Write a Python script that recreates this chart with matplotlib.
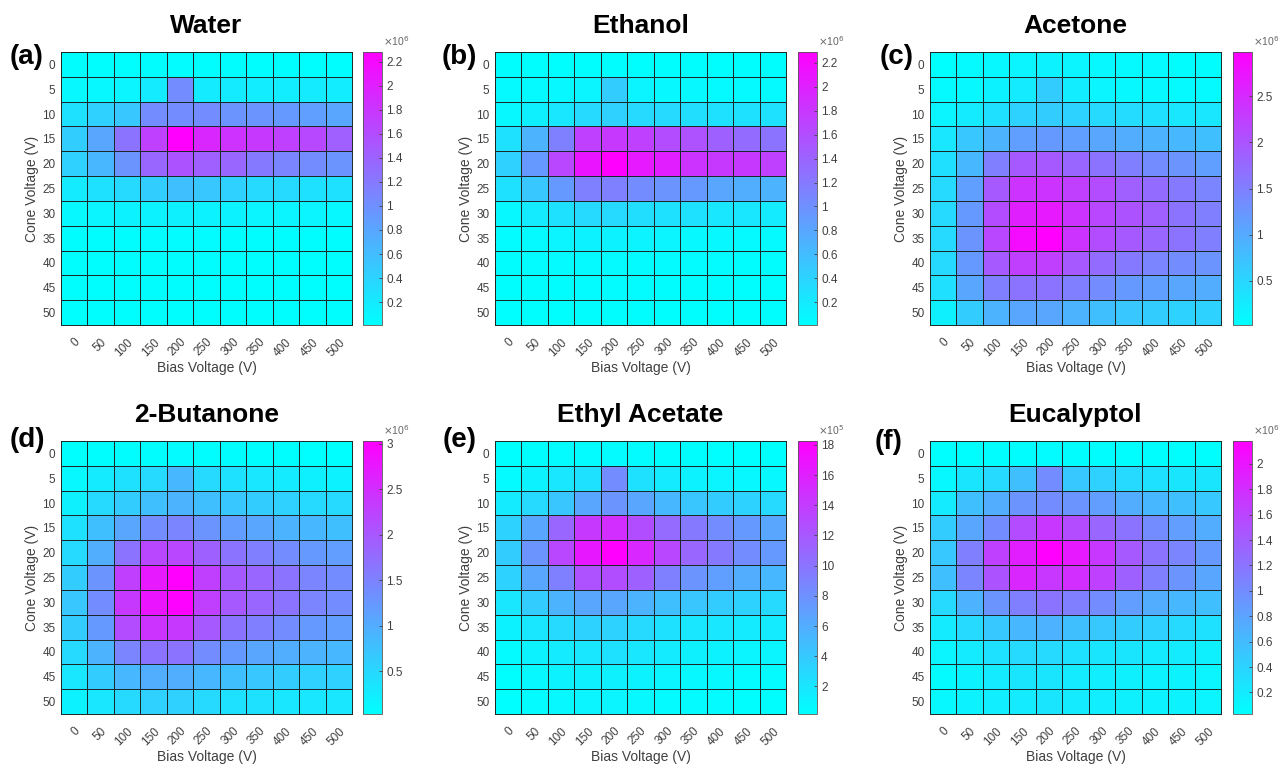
import numpy as np
import matplotlib
matplotlib.use('Agg')
import matplotlib.pyplot as plt

plt.rcParams['font.family'] = ['Liberation Sans', 'DejaVu Sans']

bias_labels = ['0', '50', '100', '150', '200', '250', '300', '350', '400', '450', '500']
cone_labels = ['0', '5', '10', '15', '20', '25', '30', '35', '40', '45', '50']

# rows = cone voltage 0..50, cols = bias voltage 0..500 (values in colorbar units)
water = [
    [0.03, 0.02, 0.02, 0.03, 0.04, 0.03, 0.03, 0.02, 0.02, 0.02, 0.02],
    [0.08, 0.08, 0.10, 0.19, 1.03, 0.19, 0.19, 0.17, 0.17, 0.19, 0.17],
    [0.28, 0.42, 0.51, 1.03, 1.03, 1.03, 0.96, 0.96, 0.92, 0.87, 0.80],
    [0.46, 0.80, 1.26, 1.71, 2.28, 1.94, 1.83, 1.78, 1.71, 1.64, 1.42],
    [0.42, 0.65, 0.96, 1.37, 1.55, 1.42, 1.37, 1.19, 1.10, 1.03, 0.96],
    [0.19, 0.28, 0.35, 0.46, 0.58, 0.51, 0.42, 0.35, 0.35, 0.28, 0.28],
    [0.08, 0.10, 0.12, 0.12, 0.15, 0.12, 0.12, 0.10, 0.10, 0.10, 0.08],
    [0.03, 0.03, 0.03, 0.04, 0.04, 0.04, 0.03, 0.03, 0.03, 0.03, 0.03],
    [0.02, 0.02, 0.03, 0.03, 0.03, 0.03, 0.02, 0.02, 0.02, 0.02, 0.02],
    [0.02, 0.02, 0.02, 0.03, 0.03, 0.02, 0.02, 0.02, 0.02, 0.02, 0.02],
    [0.01, 0.02, 0.02, 0.02, 0.02, 0.02, 0.02, 0.02, 0.02, 0.02, 0.02],
]

ethanol = [
    [0.02, 0.02, 0.02, 0.02, 0.03, 0.02, 0.02, 0.02, 0.02, 0.02, 0.02],
    [0.06, 0.06, 0.08, 0.10, 0.47, 0.10, 0.08, 0.08, 0.06, 0.06, 0.06],
    [0.08, 0.15, 0.24, 0.35, 0.42, 0.35, 0.35, 0.31, 0.28, 0.28, 0.28],
    [0.28, 0.69, 1.15, 1.72, 1.79, 1.72, 1.61, 1.56, 1.42, 1.33, 1.26],
    [0.42, 0.92, 1.65, 2.11, 2.29, 2.06, 2.02, 1.83, 1.79, 1.79, 1.72],
    [0.28, 0.51, 0.92, 1.15, 1.15, 1.04, 0.97, 0.92, 0.81, 0.74, 0.69],
    [0.08, 0.19, 0.28, 0.35, 0.35, 0.31, 0.28, 0.28, 0.24, 0.24, 0.19],
    [0.04, 0.06, 0.10, 0.12, 0.13, 0.11, 0.10, 0.08, 0.08, 0.06, 0.06],
    [0.03, 0.04, 0.05, 0.06, 0.06, 0.05, 0.05, 0.04, 0.04, 0.03, 0.03],
    [0.02, 0.03, 0.03, 0.04, 0.04, 0.04, 0.03, 0.03, 0.03, 0.02, 0.02],
    [0.01, 0.02, 0.02, 0.03, 0.03, 0.03, 0.02, 0.02, 0.02, 0.02, 0.02],
]

acetone = [
    [0.02, 0.08, 0.11, 0.14, 0.17, 0.14, 0.11, 0.08, 0.08, 0.05, 0.05],
    [0.08, 0.11, 0.17, 0.26, 0.61, 0.23, 0.14, 0.11, 0.11, 0.08, 0.08],
    [0.14, 0.26, 0.38, 0.55, 0.61, 0.55, 0.46, 0.43, 0.38, 0.32, 0.32],
    [0.32, 0.67, 0.91, 1.14, 1.20, 1.14, 1.06, 0.97, 0.91, 0.85, 0.76],
    [0.38, 0.85, 1.50, 1.94, 1.94, 1.80, 1.65, 1.50, 1.35, 1.26, 1.14],
    [0.46, 1.14, 1.94, 2.39, 2.39, 2.24, 2.09, 1.86, 1.74, 1.56, 1.44],
    [0.46, 1.20, 2.09, 2.62, 2.68, 2.39, 2.15, 2.03, 1.86, 1.65, 1.50],
    [0.46, 1.26, 2.15, 2.83, 2.98, 2.39, 2.09, 1.94, 1.80, 1.65, 1.50],
    [0.46, 1.20, 1.94, 2.24, 2.24, 1.94, 1.74, 1.56, 1.44, 1.35, 1.26],
    [0.38, 1.06, 1.50, 1.65, 1.65, 1.50, 1.35, 1.20, 1.14, 1.06, 0.97],
    [0.20, 0.61, 0.91, 1.06, 1.06, 0.91, 0.76, 0.67, 0.61, 0.55, 0.55],
]

butanone = [
    [0.03, 0.05, 0.06, 0.06, 0.08, 0.06, 0.06, 0.05, 0.05, 0.04, 0.04],
    [0.12, 0.27, 0.39, 0.48, 0.87, 0.48, 0.39, 0.33, 0.27, 0.21, 0.18],
    [0.21, 0.48, 0.63, 0.78, 0.93, 0.78, 0.69, 0.63, 0.57, 0.48, 0.48],
    [0.39, 0.78, 1.08, 1.38, 1.47, 1.29, 1.17, 1.08, 0.93, 0.87, 0.78],
    [0.48, 0.99, 1.68, 2.19, 2.19, 1.89, 1.68, 1.53, 1.38, 1.23, 1.17],
    [0.63, 1.29, 2.28, 2.73, 3.03, 2.28, 1.98, 1.83, 1.68, 1.47, 1.38],
    [0.69, 1.38, 2.37, 2.79, 3.00, 2.28, 1.98, 1.83, 1.68, 1.47, 1.38],
    [0.63, 1.23, 2.13, 2.43, 2.37, 1.98, 1.68, 1.53, 1.38, 1.23, 1.17],
    [0.48, 0.93, 1.47, 1.68, 1.68, 1.38, 1.23, 1.08, 0.99, 0.93, 0.87],
    [0.33, 0.63, 0.87, 0.99, 0.99, 0.87, 0.78, 0.69, 0.63, 0.57, 0.57],
    [0.18, 0.33, 0.48, 0.57, 0.57, 0.48, 0.39, 0.39, 0.33, 0.33, 0.33],
]

ethyl_acetate = [
    [0.17, 0.3, 0.4, 0.4, 0.5, 0.4, 0.3, 0.3, 0.2, 0.2, 0.2],
    [0.5, 1.1, 2.0, 2.3, 8.3, 2.3, 1.6, 1.1, 0.9, 0.7, 0.7],
    [1.6, 2.9, 4.2, 6.5, 7.8, 6.5, 5.2, 4.2, 3.8, 3.4, 2.9],
    [3.4, 6.5, 11.0, 14.3, 15.0, 12.8, 10.7, 9.6, 8.3, 7.4, 6.5],
    [3.8, 7.8, 13.2, 16.5, 18.26, 15.5, 13.2, 11.0, 9.6, 8.3, 7.4],
    [3.4, 6.5, 9.2, 12.5, 12.8, 11.4, 9.2, 7.8, 7.0, 6.0, 5.2],
    [2.0, 3.8, 5.6, 6.5, 6.5, 5.6, 4.7, 4.2, 3.8, 3.4, 2.9],
    [1.1, 2.0, 2.9, 3.4, 3.4, 2.9, 2.3, 2.0, 2.0, 1.6, 1.6],
    [0.5, 1.1, 1.6, 2.0, 2.3, 2.0, 1.6, 1.3, 1.1, 0.9, 0.9],
    [0.3, 0.7, 1.1, 1.3, 1.3, 1.1, 0.9, 0.7, 0.7, 0.5, 0.5],
    [0.2, 0.5, 0.7, 0.9, 0.9, 0.7, 0.5, 0.5, 0.5, 0.3, 0.3],
]

eucalyptol = [
    [0.03, 0.04, 0.05, 0.05, 0.06, 0.05, 0.05, 0.04, 0.04, 0.04, 0.04],
    [0.09, 0.25, 0.35, 0.57, 1.00, 0.50, 0.42, 0.35, 0.29, 0.25, 0.25],
    [0.20, 0.57, 0.72, 0.93, 1.00, 0.93, 0.85, 0.72, 0.63, 0.57, 0.50],
    [0.46, 0.78, 1.00, 1.54, 1.71, 1.54, 1.32, 1.21, 1.00, 0.85, 0.72],
    [0.50, 1.11, 1.64, 1.92, 2.18, 1.97, 1.71, 1.43, 1.21, 1.06, 0.89],
    [0.57, 1.06, 1.49, 1.86, 1.71, 1.79, 1.64, 1.36, 1.11, 0.93, 0.78],
    [0.35, 0.68, 0.93, 1.11, 1.21, 1.11, 1.00, 0.85, 0.72, 0.63, 0.57],
    [0.20, 0.35, 0.50, 0.63, 0.68, 0.57, 0.50, 0.46, 0.42, 0.35, 0.29],
    [0.12, 0.20, 0.29, 0.35, 0.35, 0.29, 0.25, 0.25, 0.20, 0.20, 0.16],
    [0.07, 0.14, 0.20, 0.25, 0.25, 0.20, 0.18, 0.16, 0.14, 0.14, 0.12],
    [0.09, 0.14, 0.18, 0.20, 0.25, 0.20, 0.18, 0.16, 0.14, 0.14, 0.12],
]

titles = ['Water', 'Ethanol', 'Acetone', '2-Butanone', 'Ethyl Acetate', 'Eucalyptol']
panel_tags = ['(a)', '(b)', '(c)', '(d)', '(e)', '(f)']
exponents = [6, 6, 6, 6, 5, 6]
cbar_ticks = [
    [0.2, 0.4, 0.6, 0.8, 1, 1.2, 1.4, 1.6, 1.8, 2, 2.2],
    [0.2, 0.4, 0.6, 0.8, 1, 1.2, 1.4, 1.6, 1.8, 2, 2.2],
    [0.5, 1, 1.5, 2, 2.5],
    [0.5, 1, 1.5, 2, 2.5, 3],
    [2, 4, 6, 8, 10, 12, 14, 16, 18],
    [0.2, 0.4, 0.6, 0.8, 1, 1.2, 1.4, 1.6, 1.8, 2],
]
datasets = [water, ethanol, acetone, butanone, ethyl_acetate, eucalyptol]

W, H = 1280, 765
fig = plt.figure(figsize=(W / 100, H / 100), dpi=100)

# pixel layout of each panel: heatmap left, top; colorbar left; tag position
col_left = [61, 495, 930]
cbar_left = [363, 798, 1233]
row_top = [52, 441]
tag_xy = [(10, 57), (442, 57), (880, 57), (10, 440), (443, 440), (875, 442)]
hm_w, hm_h = 291, 273
cb_w = 19
grey = '#404040'
edge = '#1a2828'

for i, data in enumerate(datasets):
    r, c = divmod(i, 3)
    left = col_left[c] / W
    bottom = 1 - (row_top[r] + hm_h) / H
    ax = fig.add_axes([left, bottom, hm_w / W, hm_h / H])
    cax = fig.add_axes([cbar_left[c] / W, bottom, cb_w / W, hm_h / H])

    arr = np.array(data)
    mesh = ax.pcolormesh(np.arange(12), np.arange(12), arr, cmap='cool',
                         edgecolors=edge, linewidth=0.7,
                         vmin=arr.min(), vmax=arr.max())
    ax.set_xlim(0, 11)
    ax.set_ylim(11, 0)
    ax.set_xticks(np.arange(11) + 0.5)
    ax.set_xticklabels(bias_labels, rotation=45, ha='right', va='top',
                       rotation_mode='anchor', fontsize=8.5, color=grey)
    ax.set_yticks(np.arange(11) + 0.5)
    ax.set_yticklabels(cone_labels, fontsize=8.5, color=grey)
    ax.tick_params(length=0, pad=4)
    ax.tick_params(axis='x', pad=8)
    for s in ax.spines.values():
        s.set_color(edge)
        s.set_linewidth(0.7)
    ax.set_xlabel('Bias Voltage (V)', fontsize=10, color=grey, labelpad=2)
    ax.set_ylabel('Cone Voltage (V)', fontsize=10, color=grey, labelpad=2)
    ax.set_title(titles[i], fontsize=19, fontweight='bold', pad=14)

    cb = fig.colorbar(mesh, cax=cax)
    cb.set_ticks(cbar_ticks[i])
    cb.set_ticklabels([f'{t:g}' for t in cbar_ticks[i]])
    cax.tick_params(direction='in', length=2, width=0.6, labelsize=8.5,
                    colors=grey, pad=3)
    cb.outline.set_edgecolor('#555555')
    cb.outline.set_linewidth(0.6)
    cax.text(1.05, 1.015, r'$\times$10$^{%d}$' % exponents[i], transform=cax.transAxes,
             fontsize=7.5, color='#666666', ha='left', va='bottom')

    tx, ty = tag_xy[i]
    fig.text(tx / W, 1 - ty / H, panel_tags[i], fontsize=20, fontweight='bold',
             ha='left', va='center')

fig.savefig('out.png', dpi=100)
